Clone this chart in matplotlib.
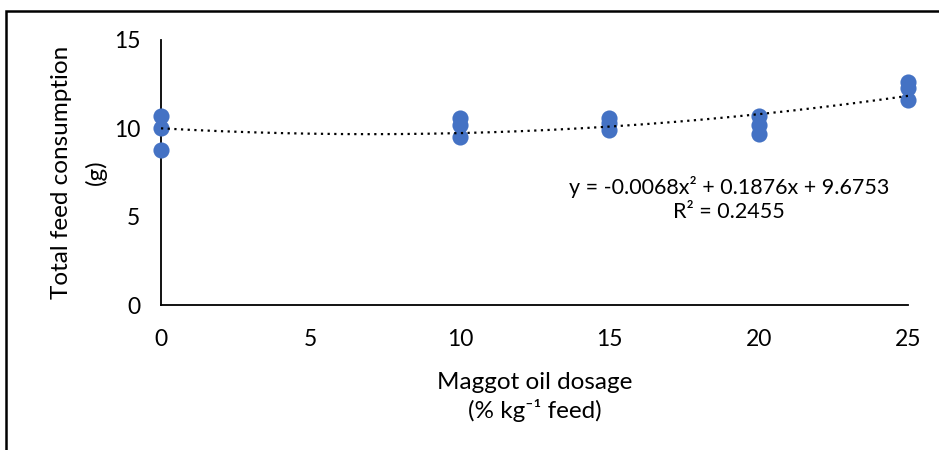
import matplotlib
matplotlib.use("Agg")
import matplotlib.pyplot as plt
import numpy as np
from matplotlib.patches import Rectangle

plt.rcParams['font.family'] = ['Lato', 'DejaVu Sans']

dosage = [0, 0, 0, 10, 10, 10, 15, 15, 15, 20, 20, 20, 25, 25, 25]
consumption = [10.7, 10.0, 8.8, 10.6, 10.2, 9.5, 10.6, 10.3, 9.9,
               10.7, 10.2, 9.7, 12.6, 12.3, 11.6]

# trendline as drawn on the chart (highest power first)
trend_drawn = [0.0067, -0.094, 10.0]
# equation printed on the chart
eq_coef = [-0.0068, 0.1876, 9.6753]
r_squared = 0.2455

x_ticks = [0, 5, 10, 15, 20, 25]
y_ticks = [0, 5, 10, 15]

fig = plt.figure(figsize=(9.39, 4.5), dpi=100)
ax = fig.add_axes([161 / 939, 1 - 305 / 450, 747 / 939, 265 / 450])

ax.scatter(dosage, consumption, s=135, color='#4472C4', zorder=3,
           linewidths=0, clip_on=False)

xx = np.linspace(0, 25, 200)
ax.plot(xx, np.polyval(trend_drawn, xx), color='black', linestyle=(0, (1, 2)),
        linewidth=1.6, zorder=4)

ax.set_xlim(0, 25)
ax.set_ylim(0, 15)
ax.set_xticks(x_ticks)
ax.set_yticks(y_ticks)
ax.tick_params(length=0, labelsize=16.5)
ax.tick_params(axis='x', pad=17)
ax.tick_params(axis='y', pad=15)
for s in ['top', 'right']:
    ax.spines[s].set_visible(False)
for s in ['left', 'bottom']:
    ax.spines[s].set_color('black')
    ax.spines[s].set_linewidth(1.3)

ax.set_xlabel('Maggot oil dosage\n(% kg⁻¹ feed)', fontsize=17.5, linespacing=1.3, labelpad=16)
ax.set_ylabel('Total feed consumption\n(g)', fontsize=17.5, linespacing=1.7, labelpad=5)

eq = 'y = {:.4f}x² + {:.4f}x + {:.4f}'.format(*eq_coef)
ax.text(19, 6.0, eq + '\nR² = {:.4f}'.format(r_squared), fontsize=15.5,
        ha='center', va='center', linespacing=1.25)

fig.patches.append(Rectangle((6 / 939, -0.1), 1.2, 1 - 11 / 450 + 0.1,
                             transform=fig.transFigure, fill=False,
                             edgecolor='black', linewidth=1.8))

plt.savefig('out.png', dpi=100)
